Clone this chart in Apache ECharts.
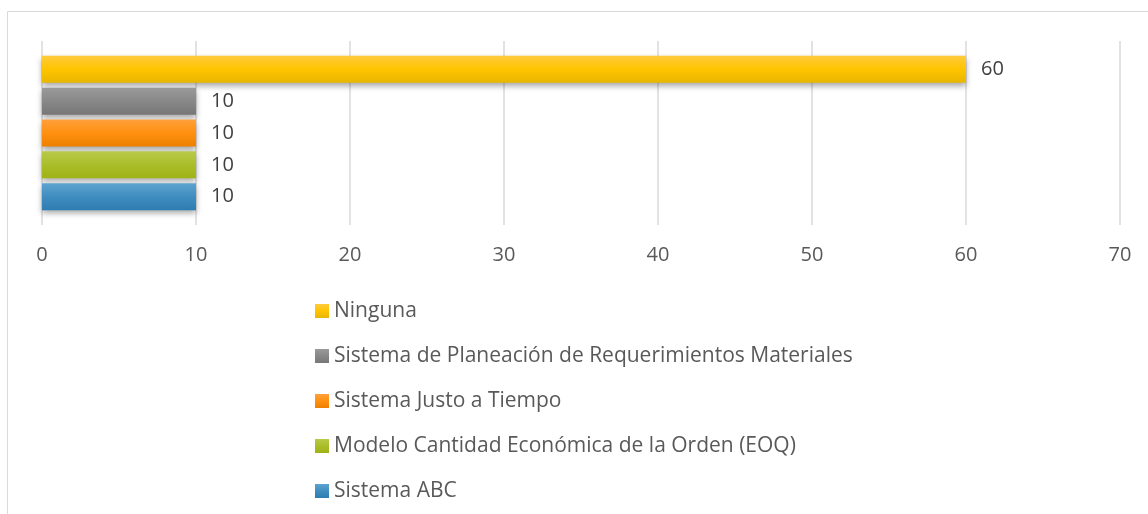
<!DOCTYPE html>
<html>
<head>
<meta charset="utf-8">
<script src="https://cdn.jsdelivr.net/npm/echarts@6/dist/echarts.min.js"></script>
<style>
  html, body { margin: 0; padding: 0; background: #fff; }
  #chart { width: 1148px; height: 514px; }
</style>
</head>
<body>
<div id="chart"></div>
<script>
// top-to-bottom order (ECharts puts series 0 at the top of a horizontal band)
const seriesNames = [
  'Ninguna',
  'Sistema de Planeación de Requerimientos Materiales',
  'Sistema Justo a Tiempo',
  'Modelo Cantidad Económica de la Orden (EOQ)',
  'Sistema ABC'
];
const seriesValues = [60, 10, 10, 10, 10];
const category = [''];
const xTicks = [0, 10, 20, 30, 40, 50, 60, 70];

// [top, middle, bottom] of each bar's gradient
const palette = [
  ['#ffcb3d', '#ffc400', '#e8b600'],
  ['#9a9a9a', '#888888', '#777777'],
  ['#ffa03a', '#ff9010', '#ee8000'],
  ['#b8ca48', '#aabd2a', '#9fb316'],
  ['#5fa3cf', '#3f8dc0', '#2e7db2']
];

function grad(c) {
  return new echarts.graphic.LinearGradient(0, 0, 0, 1, [
    { offset: 0, color: c[0] },
    { offset: 0.5, color: c[1] },
    { offset: 1, color: c[2] }
  ]);
}

const chart = echarts.init(document.getElementById('chart'), null, { renderer: 'canvas' });

const font = '"Open Sans", "Liberation Sans", sans-serif';

chart.setOption({
  animation: false,
  backgroundColor: '#fff',
  textStyle: { fontFamily: font },
  graphic: [{
    type: 'rect',
    shape: { x: 7.5, y: 11.5, width: 1200, height: 600 },
    style: { fill: 'none', stroke: '#d9d9d9', lineWidth: 1 },
    silent: true,
    z: -10
  }],
  grid: { left: 42, right: 28, top: 41, bottom: 289 },
  xAxis: {
    type: 'value',
    min: xTicks[0],
    max: xTicks[xTicks.length - 1],
    interval: 10,
    axisLine: { show: false },
    axisTick: { show: false },
    splitLine: { lineStyle: { color: '#d9d9d9', width: 1.5 } },
    axisLabel: { color: '#595959', fontSize: 20, margin: 20, fontFamily: font }
  },
  yAxis: {
    type: 'category',
    data: category,
    axisLine: { show: false },
    axisTick: { show: false },
    axisLabel: { show: false }
  },
  legend: {
    orient: 'vertical',
    left: 310,
    top: 295,
    itemWidth: 14,
    itemHeight: 14,
    itemGap: 23,
    itemStyle: { shadowBlur: 0, shadowOffsetY: 0, shadowColor: 'transparent' },
    data: seriesNames,
    textStyle: { color: '#595959', fontSize: 21, lineHeight: 22, fontFamily: font },
    icon: 'rect'
  },
  series: seriesNames.map((name, i) => ({
    name: name,
    type: 'bar',
    data: [seriesValues[i]],
    barWidth: 27,
    barGap: '18%',
    itemStyle: {
      color: grad(palette[i]),
      shadowColor: 'rgba(0,0,0,0.35)',
      shadowBlur: 6,
      shadowOffsetY: 3
    },
    label: {
      show: true,
      position: 'right',
      distance: 15,
      color: '#404040',
      fontSize: 20,
      fontFamily: font
    }
  }))
});
</script>
</body>
</html>
